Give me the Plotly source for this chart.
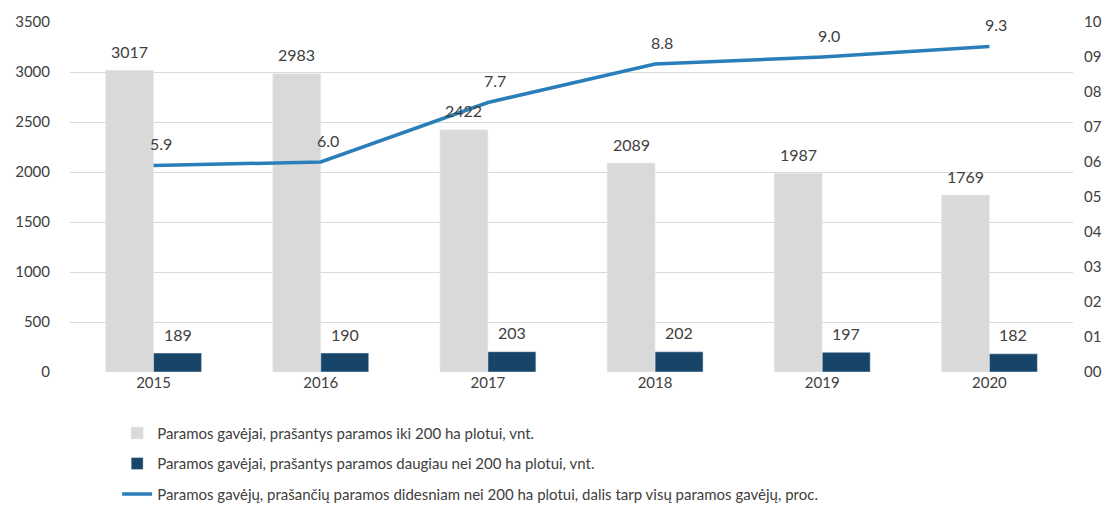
import plotly.graph_objects as go

years = ["2015", "2016", "2017", "2018", "2019", "2020"]
small_farms = [3017, 2983, 2422, 2089, 1987, 1769]
large_farms = [189, 190, 203, 202, 197, 182]
share_pct = [5.9, 6.0, 7.7, 8.8, 9.0, 9.3]

name_small = "Paramos gavėjai, prašantys paramos iki 200 ha plotui, vnt."
name_large = "Paramos gavėjai, prašantys paramos daugiau nei 200 ha plotui, vnt."
name_share = "Paramos gavėjų, prašančių paramos didesniam nei 200 ha plotui, dalis tarp visų paramos gavėjų, proc."

TXT = "#404040"
FONT = "Lato, 'Open Sans', sans-serif"

fig = go.Figure()
fig.add_trace(go.Bar(x=years, y=small_farms, name=name_small, marker_color="#D9D9D9",
                     legendgroup="a"))
fig.add_trace(go.Bar(x=years, y=large_farms, name=name_large, marker_color="#17456A",
                     legendgroup="b"))
fig.add_trace(go.Scatter(x=years, y=share_pct, name=name_share, mode="lines",
                         line=dict(color="#2A7FBA", width=3.5), yaxis="y2",
                         legendgroup="c"))

ann = []
for i, v in enumerate(small_farms):
    ann.append(dict(x=i, y=v, xref="x", yref="y", text=str(v), showarrow=False,
                    xshift=-24, yshift=19, font=dict(size=16, color=TXT)))
for i, v in enumerate(large_farms):
    ann.append(dict(x=i, y=v, xref="x", yref="y", text=str(v), showarrow=False,
                    xshift=24, yshift=19, font=dict(size=16, color=TXT)))
for i, v in enumerate(share_pct):
    ann.append(dict(x=i, y=v, xref="x", yref="y2", text=f"{v:.1f}", showarrow=False,
                    xshift=7, yshift=22, font=dict(size=16, color=TXT)))

fig.update_layout(
    width=1103, height=498,
    margin=dict(l=62, r=38, t=14, b=134, autoexpand=False),
    paper_bgcolor="white", plot_bgcolor="white",
    font=dict(family=FONT, size=15, color=TXT),
    barmode="group", bargap=0.426, bargroupgap=0,
    annotations=ann,
    xaxis=dict(type="category", categoryorder="array", categoryarray=years,
               range=[-0.5, len(years) - 0.5], showgrid=False, showline=False, ticks="",
               tickfont=dict(size=15, color=TXT)),
    yaxis=dict(range=[0, 3500], dtick=500, showgrid=True, gridcolor="#D9D9D9", gridwidth=1,
               zeroline=False, showline=False, ticks="", ticklabelstandoff=19,
               tickfont=dict(size=15, color=TXT)),
    yaxis2=dict(range=[0, 10], dtick=1, overlaying="y", side="right", showgrid=False,
                zeroline=False, showline=False, tickformat="02d", ticks="",
                ticklabelstandoff=10, tickfont=dict(size=15, color=TXT)),
    legend=dict(orientation="v", xref="paper", yref="paper", x=0.047, y=-0.128,
                xanchor="left", yanchor="top", tracegroupgap=8,
                font=dict(size=15, color=TXT), bgcolor="rgba(0,0,0,0)"),
    showlegend=True,
)

fig.write_html("out.html")
